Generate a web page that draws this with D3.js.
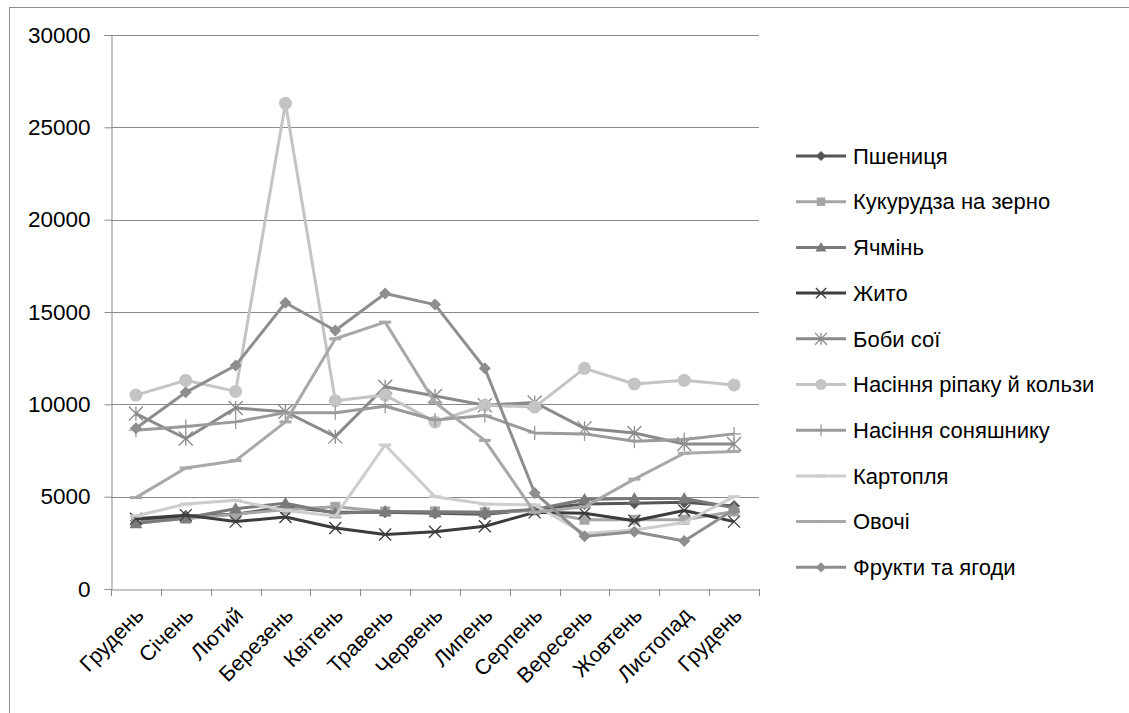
<!DOCTYPE html>
<html><head><meta charset="utf-8">
<script src="https://cdn.jsdelivr.net/npm/d3@7"></script>
<style>body{margin:0;background:#fff}svg{display:block}text{font-family:"Liberation Sans",Arial,sans-serif;fill:#000}</style>
</head><body>
<svg id="c" width="1129" height="713"></svg>
<script>
const categories = ["Грудень","Січень","Лютий","Березень","Квітень","Травень","Червень","Липень","Серпень","Вересень","Жовтень","Листопад","Грудень"];
const yTicks = [0,5000,10000,15000,20000,25000,30000];
const seriesNames = ["Пшениця","Кукурудза на зерно","Ячмінь","Жито","Боби сої","Насіння ріпаку й кользи","Насіння соняшнику","Картопля","Овочі","Фрукти та ягоди"];
const wheat   = [3700,3950,4050,4450,4150,4150,4100,4050,4300,4600,4650,4700,4500];
const corn    = [3600,3800,4050,4300,4450,4200,4200,4150,4250,3750,3750,3750,4200];
const barley  = [3550,3850,4350,4650,4100,4200,4150,4150,4300,4850,4900,4900,4400];
const rye     = [3800,4000,3650,3900,3300,2950,3100,3400,4150,4100,3700,4250,3650];
const soy     = [9500,8150,9800,9600,8250,10950,10450,9950,10100,8700,8450,7850,7850];
const rapeseed= [10500,11300,10700,26300,10200,10500,9050,9950,9850,11950,11100,11300,11050];
const sunflower=[8600,8800,9050,9550,9550,9900,9150,9400,8450,8400,8000,8100,8400];
const potato  = [3950,4600,4800,4250,3950,7800,5000,4600,4550,3000,3200,3600,5000];
const vegetables=[4950,6550,6950,9050,13550,14450,10100,8050,4150,4450,5950,7350,7450];
const fruits  = [8700,10650,12100,15500,14000,16000,15400,11950,5200,2850,3100,2600,4300];

const seriesValues = [wheat,corn,barley,rye,soy,rapeseed,sunflower,potato,vegetables,fruits];
const colors = ["#555555","#a6a6a6","#7a7a7a","#3c3c3c","#8a8a8a","#c4c4c4","#9a9a9a","#cdcdcd","#a8a8a8","#8e8e8e"];
const markers = ["diamond","square","triangle","x","asterisk","circle","plus","dash","dash","diamond"];

const FONT = "'Liberation Sans',Arial,sans-serif";
const svg = d3.select("#c");
svg.append("rect").attr("x",9.5).attr("y",7.5).attr("width",1140).attr("height",720)
  .attr("fill","none").attr("stroke","#8c8c8c").attr("stroke-width",1);

const L=111, R=759, T=35, B=589;
const x = d3.scaleBand().domain(d3.range(categories.length)).range([L,R]);
const y = d3.scaleLinear().domain([0,30000]).range([B,T]);
const cx = i => x(i)+x.bandwidth()/2;

// grid
svg.append("g").selectAll("line").data(yTicks.filter(d=>d>0)).join("line")
  .attr("x1",L).attr("x2",R).attr("y1",d=>Math.round(y(d))+0.5).attr("y2",d=>Math.round(y(d))+0.5)
  .attr("stroke","#8a8a8a").attr("stroke-width",1);

// y axis
const ya = svg.append("g").attr("transform",`translate(${L+0.5},0)`)
  .call(d3.axisLeft(y).tickValues(yTicks).tickSize(7).tickPadding(14).tickFormat(d3.format("d")));
ya.select(".domain").attr("stroke","#8a8a8a");
ya.selectAll(".tick line").attr("stroke","#8a8a8a");
ya.selectAll("text").attr("font-size",22.5).attr("fill","#000").style("font-family",FONT);

// x axis
const xa = svg.append("g").attr("transform",`translate(0,${B+0.5})`)
  .call(d3.axisBottom(x).tickSize(0).tickFormat(i=>categories[i]));
xa.select(".domain").attr("stroke","#8a8a8a");
xa.selectAll(".tick text").attr("font-size",21.5).attr("fill","#1a1a1a")
  .style("font-family",FONT)
  .attr("text-anchor","end").attr("dy",0).attr("y",0)
  .attr("transform","translate(9,27) rotate(-45)");
const bounds = d3.range(categories.length+1).map(i=> i<categories.length ? x(i) : R);
svg.append("g").selectAll("line").data(bounds).join("line")
  .attr("x1",d=>Math.round(d)+0.5).attr("x2",d=>Math.round(d)+0.5).attr("y1",B).attr("y2",B+7)
  .attr("stroke","#8a8a8a");

function marker(sel, type, color, s){
  s = s||1;
  if(type==="diamond"){
    const r=6*s;
    sel.append("path").attr("d",`M0,${-r}L${r},0L0,${r}L${-r},0Z`).attr("fill",color);
  } else if(type==="square"){
    sel.append("rect").attr("x",-5*s).attr("y",-5*s).attr("width",10*s).attr("height",10*s).attr("fill",color);
  } else if(type==="triangle"){
    const r=6.5*s;
    sel.append("path").attr("d",`M0,${-r}L${r},${r*0.75}L${-r},${r*0.75}Z`).attr("fill",color);
  } else if(type==="circle"){
    sel.append("circle").attr("r",6.5*s).attr("fill",color);
  } else if(type==="x"){
    const r=6*s;
    sel.append("path").attr("d",`M${-r},${-r}L${r},${r}M${-r},${r}L${r},${-r}`).attr("stroke",color).attr("stroke-width",1.3).attr("fill","none");
  } else if(type==="asterisk"){
    const r=7*s;
    sel.append("path").attr("d",`M${-r},${-r}L${r},${r}M${-r},${r}L${r},${-r}M0,${-r}L0,${r}`).attr("stroke",color).attr("stroke-width",1.3).attr("fill","none");
  } else if(type==="plus"){
    const r=7*s;
    sel.append("path").attr("d",`M${-r},0L${r},0M0,${-r}L0,${r}`).attr("stroke",color).attr("stroke-width",1.3).attr("fill","none");
  } else if(type==="dash"){
    sel.append("path").attr("d",`M${-6*s},0L${6*s},0`).attr("stroke",color).attr("stroke-width",3).attr("fill","none");
  }
}

const line = d3.line().x((d,i)=>cx(i)).y(d=>y(d));
seriesValues.forEach((vals,k)=>{
  const sg = svg.append("g");
  sg.append("path").datum(vals).attr("d",line).attr("fill","none")
    .attr("stroke",colors[k]).attr("stroke-width",3).attr("stroke-linejoin","round");
  vals.forEach((v,i)=>{
    const m = sg.append("g").attr("transform",`translate(${cx(i)},${y(v)})`);
    marker(m, markers[k], colors[k]);
  });
});

// legend
const lg = svg.append("g");
seriesNames.forEach((n,k)=>{
  const yy = 156 + k*45.7;
  lg.append("line").attr("x1",796).attr("x2",846).attr("y1",yy).attr("y2",yy)
    .attr("stroke",colors[k]).attr("stroke-width",3);
  const m = lg.append("g").attr("transform",`translate(821,${yy})`);
  marker(m, markers[k], colors[k], 0.85);
  lg.append("text").attr("x",853).attr("y",yy).attr("dy","0.35em").attr("font-size",22).style("font-family",FONT).text(n);
});
</script>
</body></html>
